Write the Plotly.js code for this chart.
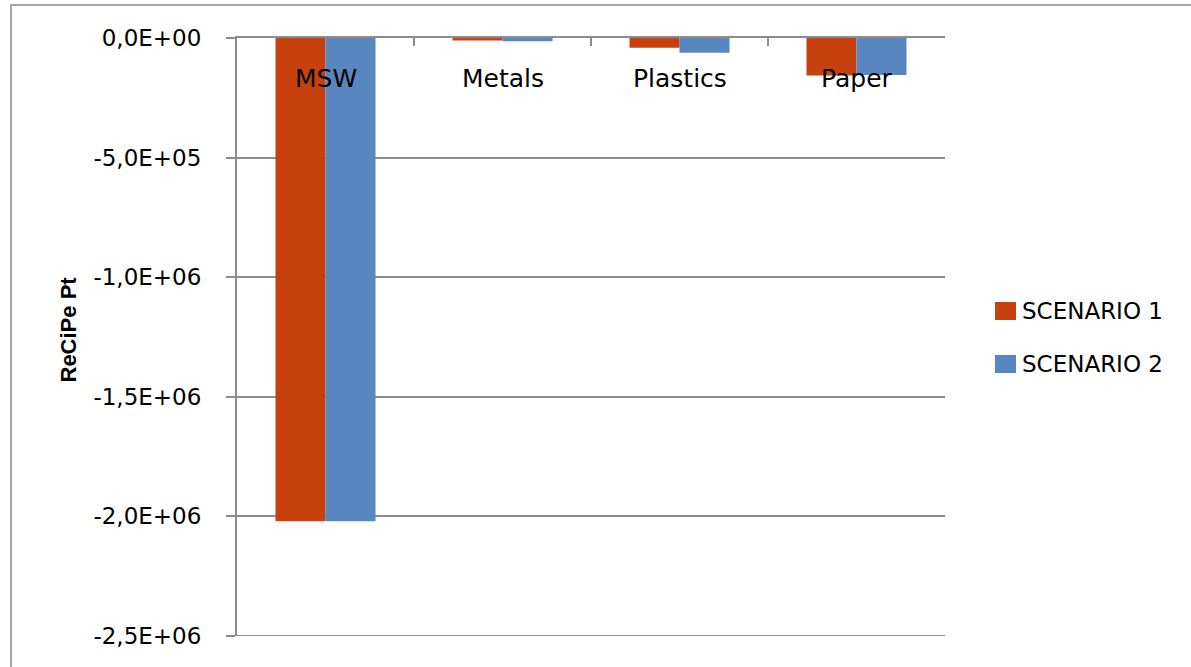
<!DOCTYPE html>
<html>
<head>
<meta charset="utf-8">
<script src="https://cdn.plot.ly/plotly-3.0.1.min.js"></script>
<style>
  html, body { margin: 0; padding: 0; background: #ffffff; }
  #chart { width: 1191px; height: 667px; }
</style>
</head>
<body>
<div id="chart"></div>
<script>
// Waste fractions and ReCiPe single-score results for both scenarios
const categories = ['MSW', 'Metals', 'Plastics', 'Paper'];
const seriesNames = ['SCENARIO 1', 'SCENARIO 2'];
const scenario1 = [-2.02e6, -1.0e4, -4.1e4, -1.57e5];
const scenario2 = [-2.02e6, -1.35e4, -6.2e4, -1.55e5];
const yTickVals = [0, -5e5, -1e6, -1.5e6, -2e6, -2.5e6];
const yTickText = ['0,0E+00', '-5,0E+05', '-1,0E+06', '-1,5E+06', '-2,0E+06', '-2,5E+06'];
const yTitle = 'ReCiPe Pt';

const colors = ['#C7410F', '#5886C0'];
const gridGray = '#8c8c8c';

const W = 1191, H = 667;
const M = { l: 237, r: 246, t: 38, b: 31 };
const plotW = W - M.l - M.r;
const plotH = H - M.t - M.b;
// pixel position on the page -> paper coordinates
const px = x => (x - M.l) / plotW;
const py = y => (H - M.b - y) / plotH;

const values = [scenario1, scenario2];
const traces = values.map((v, i) => ({
  type: 'bar',
  name: seriesNames[i],
  x: categories,
  y: v,
  marker: { color: colors[i], line: { width: 0 } },
  showlegend: false,
  hoverinfo: 'x+y+name'
}));

const shapes = [];
const annotations = [];

// Gridline along the bottom edge of the value range
shapes.push({
  type: 'line', xref: 'paper', yref: 'y',
  x0: 0, x1: 1, y0: yTickVals[yTickVals.length - 1], y1: yTickVals[yTickVals.length - 1],
  line: { color: gridGray, width: 2 }
});

// Category names sit just under the zero line
categories.forEach(c => {
  annotations.push({
    xref: 'x', yref: 'y', x: c, y: 0,
    yanchor: 'middle', yshift: -40, showarrow: false,
    text: c,
    font: { family: 'DejaVu Sans', size: 25, color: '#000000' }
  });
});

// Value-axis title
annotations.push({
  xref: 'paper', yref: 'paper', x: px(67.5), y: py(330),
  xanchor: 'center', yanchor: 'middle', textangle: -90, showarrow: false,
  text: '<b>' + yTitle + '</b>',
  font: { family: 'Liberation Sans', size: 22, color: '#000000' }
});

// Legend drawn as swatches plus labels at the right of the plot
const legendRows = [311, 364];
seriesNames.forEach((name, i) => {
  const cy = legendRows[i];
  shapes.push({
    type: 'rect', xref: 'paper', yref: 'paper',
    x0: px(995), x1: px(1016), y0: py(cy - 9), y1: py(cy + 9),
    fillcolor: colors[i], line: { width: 0 }
  });
  annotations.push({
    xref: 'paper', yref: 'paper', x: px(1020), y: py(cy),
    xanchor: 'left', yanchor: 'middle', showarrow: false,
    text: name,
    font: { family: 'DejaVu Sans', size: 23, color: '#000000' }
  });
});

// Outer chart frame
shapes.push({
  type: 'rect', xref: 'paper', yref: 'paper',
  x0: px(11), x1: px(1205), y0: py(5), y1: py(690),
  line: { color: '#a6a6a6', width: 2 }, fillcolor: 'rgba(0,0,0,0)'
});

const layout = {
  width: W, height: H,
  margin: M,
  paper_bgcolor: '#ffffff',
  plot_bgcolor: '#ffffff',
  barmode: 'group',
  bargap: 0.435,
  bargroupgap: 0,
  showlegend: false,
  font: { family: 'DejaVu Sans', color: '#000000' },
  xaxis: {
    type: 'category',
    side: 'top',
    showline: true, linecolor: gridGray, linewidth: 2,
    ticks: 'inside', tickson: 'boundaries', ticklen: 8, tickwidth: 2, tickcolor: gridGray,
    showticklabels: false,
    showgrid: false, zeroline: false
  },
  yaxis: {
    range: [-2.5e6, 0],
    tickvals: yTickVals,
    ticktext: yTickText,
    ticks: 'outside', ticklen: 9, tickwidth: 2, tickcolor: gridGray,
    ticklabelstandoff: 20,
    tickfont: { family: 'DejaVu Sans', size: 23, color: '#000000' },
    showline: true, linecolor: gridGray, linewidth: 2,
    showgrid: true, gridcolor: gridGray, gridwidth: 2,
    zeroline: false
  },
  shapes: shapes,
  annotations: annotations
};

Plotly.newPlot('chart', traces, layout, { displayModeBar: false, staticPlot: true });
</script>
</body>
</html>
